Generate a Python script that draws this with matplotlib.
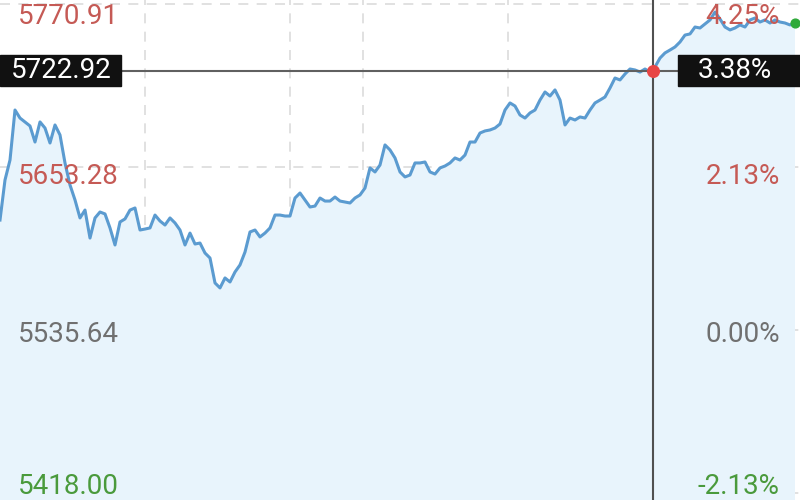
import matplotlib.pyplot as plt
from matplotlib.patches import Rectangle

plt.rcParams['font.family'] = ['Roboto', 'DejaVu Sans']

# intraday prices, one sample every 5 px of the original chart
prices = [
    5615.0, 5643.9, 5658.3, 5694.4, 5688.6, 5685.8, 5682.9, 5671.3, 5685.8, 5681.4,
    5670.6, 5683.6, 5676.4, 5656.2, 5640.3, 5629.5, 5616.5, 5622.2, 5602.0, 5616.5,
    5620.8, 5619.4, 5609.3, 5597.0, 5613.6, 5615.8, 5622.2, 5623.7, 5607.8, 5608.5,
    5609.3, 5618.6, 5614.3, 5611.4, 5616.5, 5612.9, 5607.8, 5597.0, 5605.6, 5597.7,
    5598.4, 5591.2, 5587.6, 5569.6, 5566.0, 5573.2, 5570.3, 5577.5, 5582.6, 5591.9,
    5606.4, 5607.8, 5602.8, 5605.6, 5609.3, 5618.6, 5618.6, 5617.9, 5617.9, 5630.9,
    5634.5, 5629.5, 5624.4, 5625.1, 5630.9, 5628.7, 5628.7, 5631.6, 5628.7, 5628.0,
    5627.3, 5630.9, 5633.1, 5638.1, 5652.6, 5649.7, 5654.7, 5669.2, 5665.6, 5659.8,
    5649.7, 5646.1, 5647.5, 5656.2, 5656.2, 5656.9, 5649.7, 5648.2, 5652.6, 5654.0,
    5656.2, 5659.8, 5658.3, 5661.9, 5671.3, 5671.3, 5677.8, 5679.3, 5680.0, 5681.4,
    5684.3, 5694.4, 5699.5, 5697.3, 5690.8, 5688.6, 5692.3, 5694.4, 5701.6, 5707.4,
    5704.5, 5708.9, 5701.6, 5683.6, 5688.6, 5687.2, 5689.4, 5688.6, 5694.4, 5699.5,
    5701.6, 5703.8, 5710.3, 5717.5, 5716.1, 5720.4, 5724.0, 5723.3, 5721.8, 5724.0,
    5721.8, 5725.5, 5731.9, 5735.6, 5737.7, 5739.9, 5743.5, 5748.5, 5749.3, 5754.3,
    5753.6, 5756.5, 5759.4, 5765.1, 5760.1, 5754.3, 5752.2, 5753.6, 5755.8, 5754.3,
    5759.4, 5760.8, 5757.9, 5759.4, 5757.2, 5759.4, 5757.9, 5757.2, 5755.8, 5757.2,
]
x = list(range(len(prices)))

base = 5535.64
grid_prices = [5770.91, 5653.28, 5535.64, 5418.00]
left_labels = ['5770.91', '5653.28', '5535.64', '5418.00']
right_labels = ['4.25%', '2.13%', '0.00%', '-2.13%']
label_colors = ['#c55a55', '#c55a55', '#707070', '#4a9a3c']
vgrid = [29, 58, 72.6, 101.6]

cross_x = 130.6
cross_price = 5722.92
cross_pct = '3.38%'

fig = plt.figure(figsize=(8, 5), dpi=100)
ax = fig.add_axes([0, 0, 1, 1])
ax.set_xlim(0, 160)
ax.set_ylim(5412.95, 5773.8)
ax.axis('off')

for g in grid_prices:
    ax.axhline(g, color='#dcdcdc', lw=1.2, ls=(0, (6, 5)), zorder=1)
for v in vgrid:
    ax.axvline(v, color='#dcdcdc', lw=1.2, ls=(0, (6, 5)), zorder=1)

ax.fill_between(x, prices, 5400, color='#e8f4fc', zorder=2, lw=0)
ax.plot(x, prices, color='#5b9bd0', lw=2.2, zorder=3)

# label positions in axes fraction (top to bottom)
label_y = [0.968, 0.648, 0.33, 0.026]
for ly, lt, rt, c in zip(label_y, left_labels, right_labels, label_colors):
    ax.text(0.022, ly, lt, transform=ax.transAxes, ha='left', va='center',
            fontsize=20, color=c, zorder=5)
    ax.text(0.975, ly, rt, transform=ax.transAxes, ha='right', va='center',
            fontsize=20, color=c, zorder=5)

# crosshair
ax.axvline(cross_x, color='#505050', lw=1.5, zorder=4)
ax.axhline(cross_price, color='#606060', lw=1.5, zorder=4)
ax.scatter([cross_x], [cross_price], s=70, color='#e84545', zorder=6)
ax.scatter([x[-1]], [prices[-1]], s=40, color='#2faa3a', zorder=6)

ax.add_patch(Rectangle((0, 0.828), 0.151, 0.062, transform=ax.transAxes,
                       color='#111111', zorder=7))
ax.add_patch(Rectangle((0.8475, 0.828), 0.16, 0.062, transform=ax.transAxes,
                       color='#111111', zorder=7))
ax.text(0.014, 0.859, f'{cross_price:.2f}', transform=ax.transAxes, ha='left',
        va='center', fontsize=20, color='white', zorder=8)
ax.text(0.965, 0.859, cross_pct, transform=ax.transAxes, ha='right',
        va='center', fontsize=20, color='white', zorder=8)

fig.savefig('out.png', dpi=100)
